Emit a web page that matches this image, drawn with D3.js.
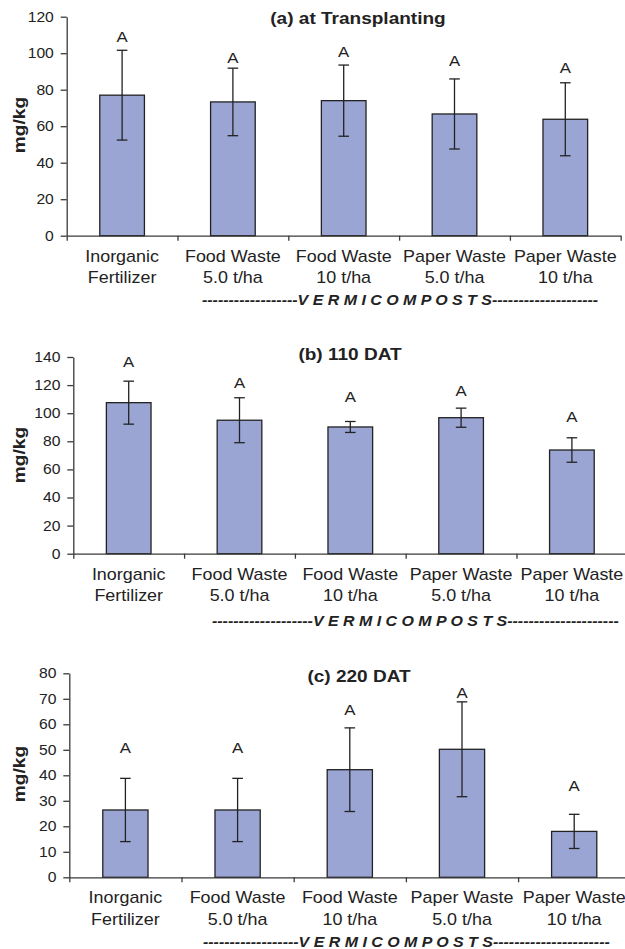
<!DOCTYPE html>
<html>
<head>
<meta charset="utf-8">
<script src="https://cdn.jsdelivr.net/npm/d3@7"></script>
<style>
  html, body { margin: 0; padding: 0; background: #fff; }
  svg { display: block; }
  text { font-family: "Liberation Sans", Arial, Helvetica, sans-serif; fill: #222; }
</style>
</head>
<body>
<svg id="chart" width="625" height="949"></svg>
<script>
// Treatments (two-line category labels)
const categories = [
  ["Inorganic", "Fertilizer"],
  ["Food Waste", "5.0 t/ha"],
  ["Food Waste", "10 t/ha"],
  ["Paper Waste", "5.0 t/ha"],
  ["Paper Waste", "10 t/ha"]
];

// (a) at Transplanting — mean and error (mg/kg)
const meansA = [77.0, 73.3, 74.0, 66.7, 63.8];
const errorsA = [24.6, 18.5, 19.5, 19.2, 20.0];
const groupsA = ["A", "A", "A", "A", "A"];
const groupLevelA = [109, 97.2, 100.8, 95.7, 91.7];
const ticksA = [0, 20, 40, 60, 80, 100, 120];

// (b) 110 DAT
const meansB = [107.5, 95.0, 90.2, 96.8, 73.8];
const errorsB = [15.3, 16.0, 3.9, 6.8, 8.7];
const groupsB = ["A", "A", "A", "A", "A"];
const groupLevelB = [136.7, 121.7, 111.3, 115.6, 97.1];
const ticksB = [0, 20, 40, 60, 80, 100, 120, 140];

// (c) 220 DAT
const meansC = [26.4, 26.4, 42.2, 50.2, 18.0];
const errorsC = [12.4, 12.4, 16.4, 18.6, 6.7];
const groupsC = ["A", "A", "A", "A", "A"];
const groupLevelC = [50.8, 50.8, 65.6, 72.2, 35.9];
const ticksC = [0, 10, 20, 30, 40, 50, 60, 70, 80];

const titles = ["(a) at Transplanting", "(b) 110 DAT", "(c) 220 DAT"];
const yLabel = "mg/kg";
const groupName = "V E R M I C O M P O S T S";

// Panel layout
const panels = [
  { title: titles[0], means: meansA, errors: errorsA, groups: groupsA, levels: groupLevelA, ticks: ticksA,
    left: 66.7, band: 110.8, top: 16.7, bottom: 235.7, titleX: 358, titleY: 24,
    labelY: 125, lineX: 202, lineY: 304.5, lead: 18, trail: 20 },
  { title: titles[1], means: meansB, errors: errorsB, groups: groupsB, levels: groupLevelB, ticks: ticksB,
    left: 73.3, band: 110.8, top: 357, bottom: 553.7, titleX: 350, titleY: 360,
    labelY: 455, lineX: 212, lineY: 626, lead: 19, trail: 21 },
  { title: titles[2], means: meansC, errors: errorsC, groups: groupsC, levels: groupLevelC, ticks: ticksC,
    left: 69.3, band: 112.2, top: 673.3, bottom: 877.3, titleX: 359, titleY: 681.5,
    labelY: 774, lineX: 203, lineY: 946.5, lead: 18, trail: 22 }
];

const BAR_FILL = "#9BA5D4";
const INK = "#222";
const AXIS = "#3a3a3a";

const svg = d3.select("#chart");

// Text that is slightly widened along its writing direction
function wideText(parent, x, y, str, opts) {
  const g = parent.append("g")
    .attr("transform", `translate(${x},${y})` + (opts.rotate ? ` rotate(${opts.rotate})` : "") + ` scale(${opts.sx || 1},1)`);
  const t = g.append("text")
    .attr("text-anchor", opts.anchor || "middle")
    .attr("font-size", opts.size)
    .attr("font-weight", opts.weight || "normal")
    .attr("font-style", opts.style || "normal")
    .text(str);
  if (opts.baseline) t.attr("dominant-baseline", opts.baseline);
  return t;
}

panels.forEach(p => {
  const n = categories.length;
  const right = p.left + p.band * n;
  const yMax = p.ticks[p.ticks.length - 1];

  const y = d3.scaleLinear().domain([0, yMax]).range([p.bottom, p.top]);
  const x = d3.scaleBand().domain(d3.range(n)).range([p.left, right]).padding(0);
  const xEdge = d3.scaleLinear().domain([0, n]).range([p.left, right]);
  const barW = x.bandwidth() * 0.403;

  const g = svg.append("g");

  // bars
  g.selectAll("rect.bar").data(p.means).join("rect")
    .attr("class", "bar")
    .attr("x", (d, i) => x(i) + (x.bandwidth() - barW) / 2)
    .attr("y", d => y(d))
    .attr("width", barW)
    .attr("height", d => y(0) - y(d))
    .attr("fill", BAR_FILL)
    .attr("stroke", INK)
    .attr("stroke-width", 1.3);

  // error bars
  const eb = g.selectAll("g.err").data(p.means).join("g").attr("class", "err")
    .attr("stroke", INK).attr("stroke-width", 1.3);
  const cx = i => x(i) + x.bandwidth() / 2;
  eb.append("line")
    .attr("x1", (d, i) => cx(i)).attr("x2", (d, i) => cx(i))
    .attr("y1", (d, i) => y(d + p.errors[i])).attr("y2", (d, i) => y(d - p.errors[i]));
  eb.append("line")
    .attr("x1", (d, i) => cx(i) - 5.3).attr("x2", (d, i) => cx(i) + 5.3)
    .attr("y1", (d, i) => y(d + p.errors[i])).attr("y2", (d, i) => y(d + p.errors[i]));
  eb.append("line")
    .attr("x1", (d, i) => cx(i) - 5.3).attr("x2", (d, i) => cx(i) + 5.3)
    .attr("y1", (d, i) => y(d - p.errors[i])).attr("y2", (d, i) => y(d - p.errors[i]));

  // group letters
  p.groups.forEach((s, i) => {
    wideText(g, cx(i), y(p.levels[i]), s, { size: 14, sx: 1.2, baseline: "central" });
  });

  // y axis
  const yAxis = g.append("g")
    .attr("transform", `translate(${p.left},0)`)
    .call(d3.axisLeft(y).tickValues(p.ticks).tickSize(6).tickSizeOuter(0).tickPadding(5.5));
  yAxis.select(".domain").attr("stroke", AXIS).attr("stroke-width", 1.3);
  yAxis.selectAll(".tick line").attr("stroke", AXIS).attr("stroke-width", 1.3);
  yAxis.selectAll(".tick text")
    .attr("font-size", 14)
    .attr("font-family", "Liberation Sans, Arial, sans-serif")
    .attr("fill", "#222")
    .attr("transform", "scale(1.12,1)");

  // x axis with ticks at category boundaries
  const xAxis = g.append("g")
    .attr("transform", `translate(0,${p.bottom})`)
    .call(d3.axisBottom(xEdge).tickValues(d3.range(n + 1)).tickSize(5).tickSizeOuter(0).tickFormat(""));
  xAxis.select(".domain").attr("stroke", AXIS).attr("stroke-width", 1.3);
  xAxis.selectAll(".tick line").attr("stroke", AXIS).attr("stroke-width", 1.3);

  // category labels
  categories.forEach((lines, i) => {
    wideText(g, cx(i), p.bottom + 26, lines[0], { size: 16, sx: 1.12 });
    wideText(g, cx(i), p.bottom + 47.5, lines[1], { size: 16, sx: 1.12 });
  });

  // title
  wideText(g, p.titleX, p.titleY, p.title, { size: 17, sx: 1.12, weight: "bold" });

  // y axis label
  wideText(g, 25, p.labelY, yLabel, { size: 17, sx: 1.13, weight: "bold", rotate: -90 });

  // vermicompost grouping line
  const lineStr = "-".repeat(p.lead) + groupName + "-".repeat(p.trail);
  wideText(g, p.lineX, p.lineY, lineStr, { size: 14, sx: 1.14, weight: "bold", style: "italic", anchor: "start" });
});
</script>
</body>
</html>
